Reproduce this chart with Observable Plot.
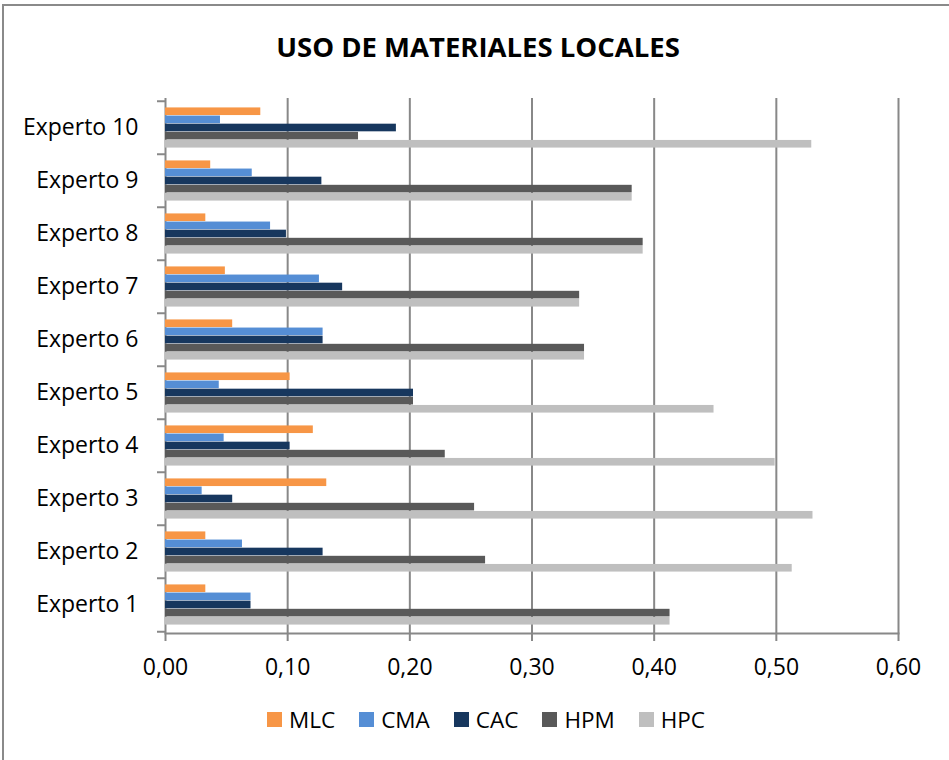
<!DOCTYPE html>
<html><head><meta charset="utf-8">
<script src="https://cdn.jsdelivr.net/npm/d3@7"></script>
<script src="https://cdn.jsdelivr.net/npm/@observablehq/plot@0.6"></script>
<style>
body{margin:0;width:949px;height:760px;overflow:hidden;background:#fff;font-family:"Open Sans",sans-serif;position:relative}
#border{position:absolute;left:2px;top:4px;width:1000px;height:800px;border:2px solid #8a8a8a;}
#title{position:absolute;left:0;top:28px;width:956px;text-align:center;font-weight:bold;font-size:27.5px;color:#000;letter-spacing:0px}
#chart{position:absolute;left:0;top:90px}
#legend{position:absolute;left:0;top:703px;width:949px;padding-left:267px;box-sizing:border-box}
#legend div, #legend span{font-size:22.5px !important;font-family:"Open Sans",sans-serif !important;color:#000 !important}
#legend .lg-swatch{margin-right:24px !important}
#legend .lg-swatch > svg{margin-right:7px !important}
</style>
</head><body>
<div id="border"></div>
<div id="title">USO DE MATERIALES LOCALES</div>
<div id="chart"></div>
<div id="legend"></div>
<script>
const experts = ["Experto 1","Experto 2","Experto 3","Experto 4","Experto 5","Experto 6","Experto 7","Experto 8","Experto 9","Experto 10"];
const series = ["MLC","CMA","CAC","HPM","HPC"];
const colors = ["#F79646","#558ED5","#17375E","#595959","#BFBFBF"];
const MLC = [0.033, 0.033, 0.132, 0.121, 0.102, 0.055, 0.049, 0.033, 0.037, 0.078];
const CMA = [0.070, 0.063, 0.030, 0.048, 0.044, 0.129, 0.126, 0.086, 0.071, 0.045];
const CAC = [0.070, 0.129, 0.055, 0.102, 0.203, 0.129, 0.145, 0.099, 0.128, 0.189];
const HPM = [0.413, 0.262, 0.253, 0.229, 0.203, 0.343, 0.339, 0.391, 0.382, 0.158];
const HPC = [0.413, 0.513, 0.530, 0.499, 0.449, 0.343, 0.339, 0.391, 0.382, 0.529];
const xTicks = [0, 0.1, 0.2, 0.3, 0.4, 0.5, 0.6];

const values = {MLC, CMA, CAC, HPM, HPC};
const rows = [];
series.forEach(s => experts.forEach((e, i) => rows.push({expert: e, series: s, value: values[s][i]})));

const W = 949, H = 600, MT = 8, MB = 57, ML = 165, MR = 51;
const band = (H - MT - MB) / experts.length;
const bh = band * 0.76 / series.length;
const pad = (band - bh * series.length) / 2;
const fmt = d => d.toFixed(2).replace(".", ",");
const gray = "#888888";

const marks = [
  Plot.gridX(xTicks, {stroke: gray, strokeOpacity: 1, strokeWidth: 2})
];
series.forEach((s, k) => {
  marks.push(Plot.barX(rows.filter(r => r.series === s), {
    x: "value", y: "expert", fill: colors[k],
    insetTop: pad + k * bh, insetBottom: band - pad - (k + 1) * bh
  }));
});
marks.push(
  Plot.frame({anchor: "bottom", stroke: gray, strokeWidth: 2}),
  Plot.axisX(xTicks, {tickSize: 8, tickPadding: 17, tickFormat: fmt, stroke: gray, strokeWidth: 2, fill: "#000", fontSize: 23, label: null}),
  Plot.axisY({tickSize: 0, tickPadding: 27, fill: "#000", fontSize: 23, label: null}),
  Plot.axisY({tickSize: 8, tickFormat: () => "", stroke: gray, strokeWidth: 2, dy: -band / 2, label: null}),
  Plot.axisY(["Experto 1"], {tickSize: 8, tickFormat: () => "", stroke: gray, strokeWidth: 2, dy: band / 2, label: null})
);

const chart = Plot.plot({
  width: W, height: H,
  marginTop: MT, marginBottom: MB, marginLeft: ML, marginRight: MR,
  style: {fontFamily: "'Open Sans', sans-serif", fontSize: "22px", background: "transparent", color: "#000"},
  x: {domain: [0, 0.6], label: null},
  y: {domain: [...experts].reverse(), padding: 0, label: null},
  marks
});
document.getElementById("chart").appendChild(chart);

const legend = Plot.legend({
  color: {type: "categorical", domain: series, range: colors},
  swatchSize: 15, className: "lg"
});
document.getElementById("legend").appendChild(legend);
</script>
</body></html>
